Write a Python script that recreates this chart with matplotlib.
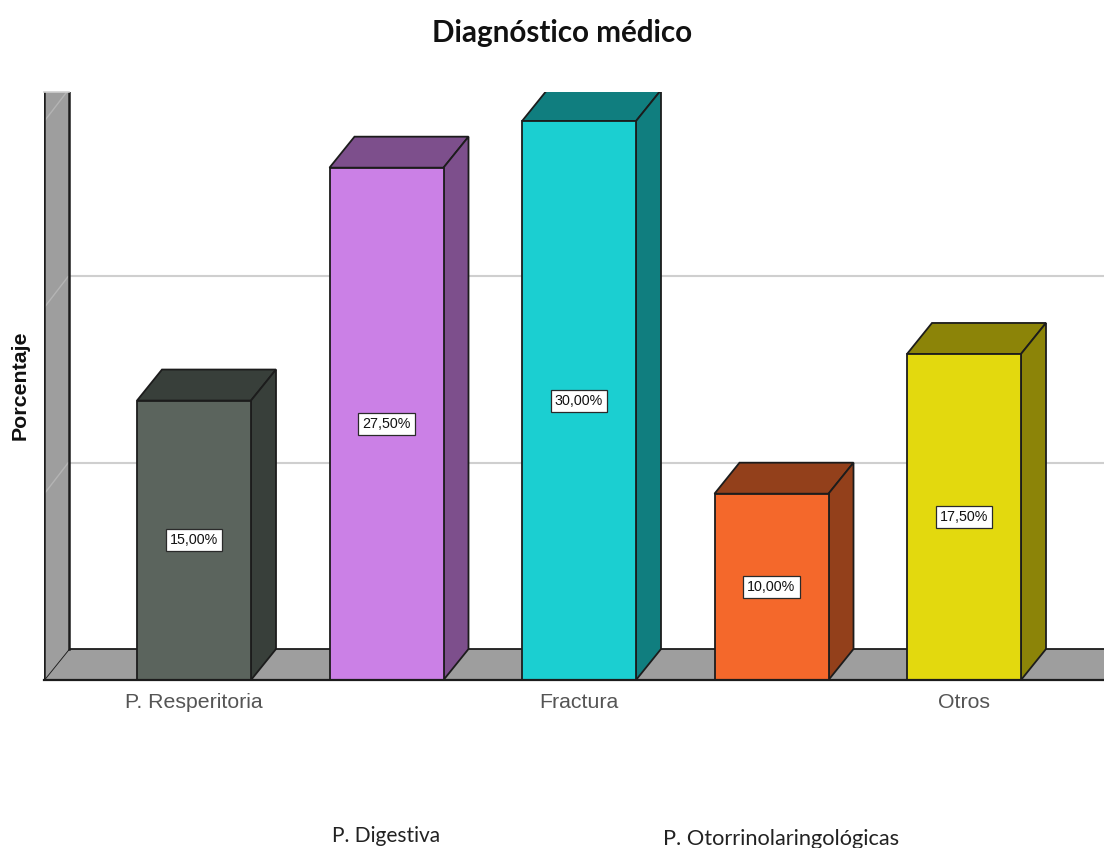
import matplotlib
matplotlib.use("Agg")
import matplotlib.pyplot as plt
from matplotlib.patches import Polygon

categories = ["P. Resperitoria", "P. Digestiva", "Fractura", "P. Otorrinolaringológicas", "Otros"]
values = [15.0, 27.5, 30.0, 10.0, 17.5]
front_colors = ["#5b645d", "#cb80e6", "#1bcfd1", "#f4682b", "#e3d90e"]
side_colors = ["#383f3a", "#7d4f8c", "#107e7f", "#93401b", "#8c8408"]
grid_values = [10, 20, 30]

W, H = 1104, 848
# pixels per category and per percentage point
X_UNIT = 192.5
Y_UNIT = 18.63
BAR_W = 114 / X_UNIT
DX = 25 / X_UNIT
DY = 31 / Y_UNIT
WALL = "#9e9e9e"
EDGE = "#1c1c1c"

fig = plt.figure(figsize=(W / 100, H / 100), dpi=100)
ax = fig.add_axes([44 / W, 1 - 680 / H, (W - 44) / W, 588 / H])
ax.set_xlim((44 - 194) / X_UNIT, (W - 194) / X_UNIT)
ax.set_ylim(0, 588 / Y_UNIT)
for s in ax.spines.values():
    s.set_visible(False)
ax.patch.set_visible(False)

x0 = ax.get_xlim()[0]
x1 = ax.get_xlim()[1]
ytop = ax.get_ylim()[1]


def poly(pts, fc, ec=EDGE, lw=1.3, z=2):
    ax.add_patch(Polygon(pts, closed=True, facecolor=fc, edgecolor=ec, linewidth=lw, zorder=z))


# floor and left wall
poly([(x0, 0), (x1 + 1, 0), (x1 + 1, DY), (x0 + DX, DY)], WALL)
poly([(x0, 0), (x0 + DX, DY), (x0 + DX, ytop), (x0, ytop)], WALL, ec="none")
ax.plot([x0, x0], [0, ytop], color=EDGE, lw=1.8, zorder=2.6)
ax.plot([x0 + DX, x0 + DX], [DY, ytop], color=EDGE, lw=1.8, zorder=2.6)
ax.plot([x0, x0 + DX], [ytop, ytop], color="#cfcfcf", lw=1.2, zorder=2.7, clip_on=False)

# gridlines run along the back and slant down the wall
for g in grid_values:
    ax.plot([x0 + DX, x1], [g + DY, g + DY], color="#cfcfcf", lw=1.5, zorder=1.5)
    ax.plot([x0 + 0.002, x0 + DX - 0.004], [g, g + DY], color="#b4b4b4", lw=1, zorder=2.5)

# boxes
for i, v in enumerate(values):
    l = i - BAR_W / 2
    r = i + BAR_W / 2
    poly([(l, v), (l + DX, v + DY), (r + DX, v + DY), (r, v)], side_colors[i], z=3)
    poly([(r, 0), (r + DX, DY), (r + DX, v + DY), (r, v)], side_colors[i], z=3)
    poly([(l, 0), (r, 0), (r, v), (l, v)], front_colors[i], z=4)
    ax.text(i, v / 2, f"{v:.2f}%".replace(".", ","), ha="center", va="center", zorder=5,
            fontsize=10.3, family="Liberation Sans", color="#111111",
            bbox=dict(boxstyle="square,pad=0.28", fc="white", ec="#2a2a2a", lw=0.9))

# baseline
ax.plot([x0, x1], [0, 0], color=EDGE, lw=1.6, zorder=6, clip_on=False)

ax.set_xticks([0, 2, 4], [categories[0], categories[2], categories[4]],
              fontsize=15.3, family="Liberation Sans", color="#555555")
ax.tick_params(axis="x", length=0, pad=9)
ax.set_yticks([])

# the other two category names sit lower, in a different face
ax.annotate(categories[1], (1, 0), xytext=(0, -(836 - 680) * 0.72), textcoords="offset points",
            ha="center", va="center", fontsize=15, family="Lato", color="#222222", annotation_clip=False)
ax.annotate(categories[3], (3, 0), xytext=(10 * 0.72, -(839 - 680) * 0.72), textcoords="offset points",
            ha="center", va="center", fontsize=15.7, family="Lato", color="#222222", annotation_clip=False)

fig.text(20 / W, 1 - 385 / H, "Porcentaje", rotation=90, ha="center", va="center",
         fontsize=15.4, fontweight="bold", family="Liberation Sans", color="#111111")
fig.text(562 / W, 1 - 33 / H, "Diagnóstico médico", ha="center", va="center",
         fontsize=21.3, fontweight="bold", family="Lato", color="#111111")

fig.savefig("out.png", dpi=100)
